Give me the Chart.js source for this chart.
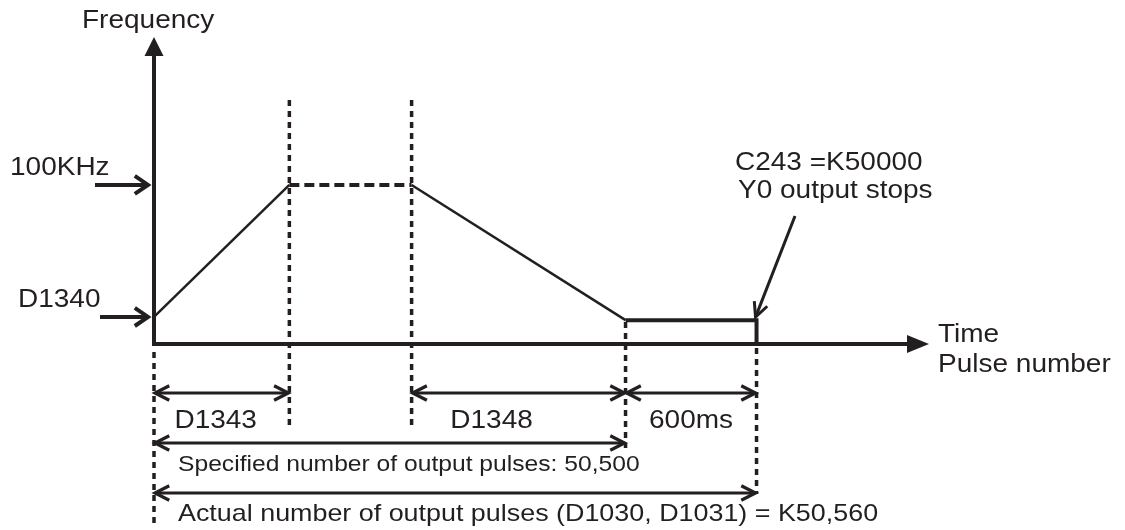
<!DOCTYPE html>
<html>
<head>
<meta charset="utf-8">
<script src="https://cdn.jsdelivr.net/npm/chart.js@4/dist/chart.umd.min.js"></script>
<style>
  html, body { margin: 0; padding: 0; background: #fff; }
  canvas { display: block; }
</style>
</head>
<body>
<canvas id="profile" width="1125" height="530"></canvas>
<script>
// Pulse output profile (time in ms, frequency in kHz)
const phaseNames = ['start', 'accel end', 'decel start', 'decel end', 'stop'];
const phaseTimes = [0, 620, 1180, 2160, 2760];
const phaseFreqs = [17, 100, 100, 15, 15];
const timeMax = 3550;
const freqMax = 193;

// level markers on the frequency axis
const levelLabels = ['100KHz', 'D1340'];
const levelValues = [100, 17];

// spans measured under the time axis
const spanLabels = ['D1343', 'D1348', '600ms',
    'Specified number of output pulses: 50,500',
    'Actual number of output pulses (D1030, D1031) = K50,560'];
const spanFrom = [0, 1180, 2160, 0, 0];
const spanTo = [620, 2160, 2760, 2160, 2760];

const INK = '#231f20';
const SX = 1.12; // text in the source is drawn a bit wide

function pt(i, f) {
    return { x: phaseTimes[i], y: f === undefined ? phaseFreqs[i] : f };
}

function drawText(ctx, str, x, y, size, align) {
    ctx.save();
    ctx.font = size + 'px "Liberation Sans", Arial, sans-serif';
    ctx.fillStyle = INK;
    ctx.textAlign = align || 'left';
    ctx.textBaseline = 'alphabetic';
    ctx.translate(x, y);
    ctx.scale(SX, 1);
    ctx.fillText(str, 0, 0);
    ctx.restore();
}

// open "V" arrow head at (x, y) pointing along angle
function chevron(ctx, x, y, angle, len, spread) {
    ctx.beginPath();
    ctx.moveTo(x - len * Math.cos(angle - spread), y - len * Math.sin(angle - spread));
    ctx.lineTo(x, y);
    ctx.lineTo(x - len * Math.cos(angle + spread), y - len * Math.sin(angle + spread));
    ctx.stroke();
}

function arrowLine(ctx, x1, y1, x2, y2, width, len, spread) {
    ctx.save();
    ctx.strokeStyle = INK;
    ctx.lineWidth = width;
    ctx.beginPath();
    ctx.moveTo(x1, y1);
    ctx.lineTo(x2, y2);
    ctx.stroke();
    chevron(ctx, x2, y2, Math.atan2(y2 - y1, x2 - x1), len, spread);
    ctx.restore();
}

function dimLine(ctx, x1, x2, y) {
    ctx.save();
    ctx.strokeStyle = INK;
    ctx.lineWidth = 3.2;
    ctx.beginPath();
    ctx.moveTo(x1 + 1, y);
    ctx.lineTo(x2 - 1, y);
    ctx.stroke();
    chevron(ctx, x2 - 1, y, 0, 16, 0.47);
    chevron(ctx, x1 + 1, y, Math.PI, 16, 0.47);
    ctx.restore();
}

const diagramPlugin = {
    id: 'diagram',
    beforeDatasetsDraw(chart) {
        const ctx = chart.ctx;
        const xs = chart.scales.x, ys = chart.scales.y;
        const x0 = xs.getPixelForValue(0), y0 = ys.getPixelForValue(0);
        const xEnd = xs.getPixelForValue(timeMax), yEnd = ys.getPixelForValue(freqMax);

        // dotted guides
        const guideTop = [352, 100, 100, 322, 348];
        const guideBottom = [527, 426, 426, 448, 494];
        ctx.save();
        ctx.strokeStyle = INK;
        ctx.lineWidth = 3.5;
        ctx.setLineDash([6, 5]);
        phaseTimes.forEach((t, i) => {
            const gx = xs.getPixelForValue(t);
            ctx.beginPath();
            ctx.moveTo(gx, guideTop[i]);
            ctx.lineTo(gx, guideBottom[i]);
            ctx.stroke();
        });
        ctx.restore();

        // axes with solid heads
        ctx.save();
        ctx.strokeStyle = INK;
        ctx.fillStyle = INK;
        ctx.lineWidth = 4;
        ctx.beginPath();
        ctx.moveTo(x0, y0 + 2);
        ctx.lineTo(x0, yEnd + 14);
        ctx.moveTo(x0 - 2, y0);
        ctx.lineTo(xEnd - 14, y0);
        ctx.stroke();
        ctx.beginPath();
        ctx.moveTo(x0, yEnd);
        ctx.lineTo(x0 - 9.5, yEnd + 19);
        ctx.lineTo(x0 + 9.5, yEnd + 19);
        ctx.closePath();
        ctx.fill();
        ctx.beginPath();
        ctx.moveTo(xEnd, y0);
        ctx.lineTo(xEnd - 22, y0 - 9);
        ctx.lineTo(xEnd - 22, y0 + 9);
        ctx.closePath();
        ctx.fill();
        ctx.restore();
    },
    afterDatasetsDraw(chart) {
        const ctx = chart.ctx;
        const xs = chart.scales.x, ys = chart.scales.y;
        const x0 = xs.getPixelForValue(0);
        const xEnd = xs.getPixelForValue(timeMax);
        const y0 = ys.getPixelForValue(0);

        drawText(ctx, 'Frequency', 82, 28, 25);
        drawText(ctx, 'Time', xEnd + 9, y0 - 2, 25);
        drawText(ctx, 'Pulse number', xEnd + 9, y0 + 28, 25);

        // level arrows pointing at the frequency axis
        const levelTextX = [10, 18];
        const levelArrowX = [95, 100];
        levelLabels.forEach((lab, i) => {
            const ly = ys.getPixelForValue(levelValues[i]);
            drawText(ctx, lab, levelTextX[i], ly - 10, 25);
            arrowLine(ctx, levelArrowX[i], ly, x0 - 6, ly, 4, 16, 0.6);
        });

        // stop note and pointer
        const sx = xs.getPixelForValue(phaseTimes[4]);
        const sy = ys.getPixelForValue(phaseFreqs[4]);
        drawText(ctx, 'C243 =K50000', 735, 170, 25);
        drawText(ctx, 'Y0 output stops', 738, 198, 25);
        arrowLine(ctx, 795, 216, sx - 1, sy - 3, 3, 16, 0.45);

        // dimension spans
        const rowY = [393, 393, 393, 443, 493];
        const textY = [428, 428, 428, 471, 521];
        const textSize = [25, 25, 25, 22, 24];
        spanLabels.forEach((lab, i) => {
            const a = xs.getPixelForValue(spanFrom[i]);
            const b = xs.getPixelForValue(spanTo[i]);
            dimLine(ctx, a, b, rowY[i]);
            if (i < 3) {
                const shift = i === 1 ? -27 : (i === 0 ? -6 : 0);
                drawText(ctx, lab, (a + b) / 2 + shift, textY[i], textSize[i], 'center');
            } else {
                drawText(ctx, lab, x0 + 24, textY[i], textSize[i]);
            }
        });
    }
};

const lineBase = { borderColor: INK, pointRadius: 0, fill: false, tension: 0, clip: false };

new Chart(document.getElementById('profile'), {
    type: 'line',
    data: {
        datasets: [
            Object.assign({ label: 'accel', data: [pt(0), pt(1)], borderWidth: 2.5 }, lineBase),
            Object.assign({ label: 'run', data: [pt(1), pt(2)], borderWidth: 4, borderDash: [10, 5] }, lineBase),
            Object.assign({ label: 'decel', data: [pt(2), pt(3)], borderWidth: 2.5 }, lineBase),
            Object.assign({ label: 'creep', data: [pt(3), pt(4), pt(4, 0)], borderWidth: 4, borderJoinStyle: 'miter' }, lineBase)
        ]
    },
    options: {
        responsive: false,
        animation: false,
        devicePixelRatio: 1,
        layout: { padding: { left: 154, right: 196, top: 37, bottom: 186 } },
        scales: {
            x: { type: 'linear', min: 0, max: timeMax, display: false },
            y: { type: 'linear', min: 0, max: freqMax, display: false }
        },
        plugins: { legend: { display: false }, tooltip: { enabled: false } }
    },
    plugins: [diagramPlugin]
});
</script>
</body>
</html>
